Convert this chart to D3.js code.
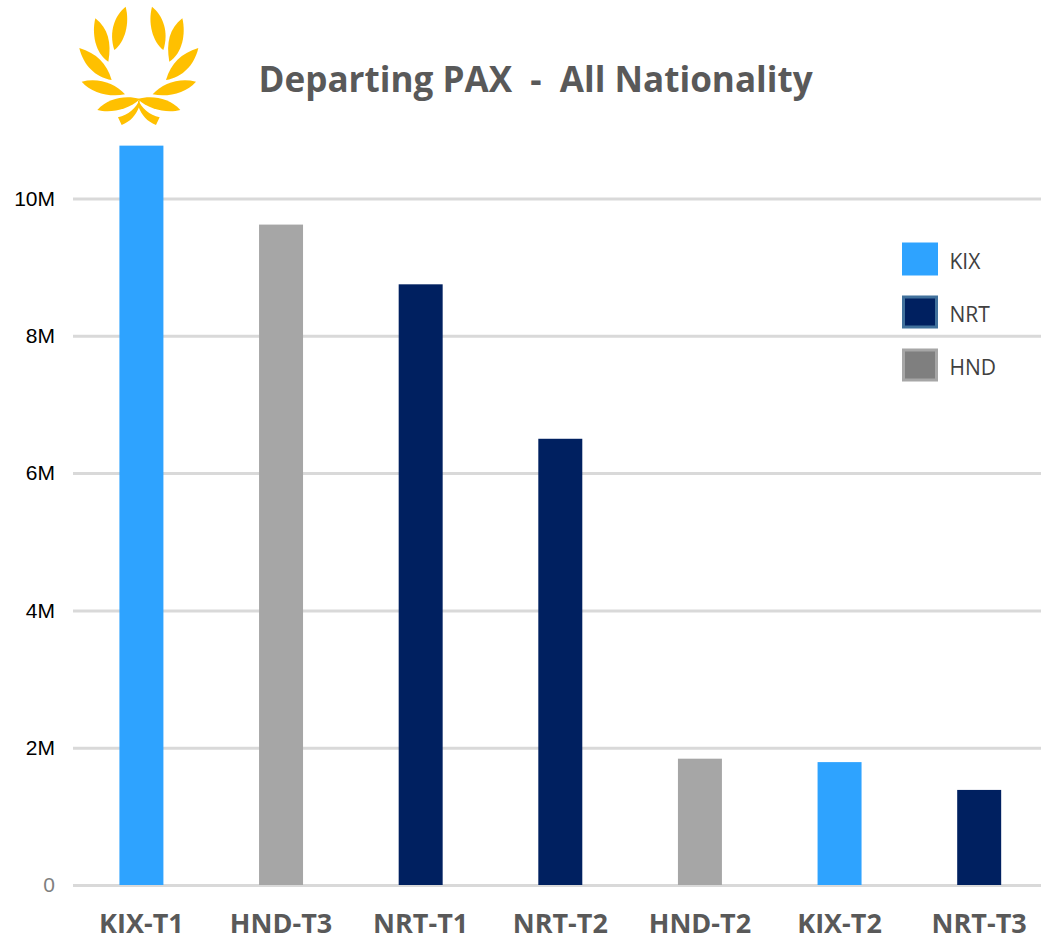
<!DOCTYPE html>
<html>
<head>
    <meta charset="UTF-8">
    <title>Departing PAX - All Nationality</title>
    <script src="https://d3js.org/d3.v7.min.js"></script>
    <style>
        body { margin: 0; background: #fff; }
        svg { display: block; }
        text { font-family: "Open Sans", sans-serif; }
        .chart-title { font-size: 35.1px; font-weight: bold; fill: #595959; }
        .grid line { stroke: #d9d9d9; stroke-width: 3px; }
        .grid path { display: none; }
        .axis path, .axis line { display: none; }
        .y-axis text { font-family: "Liberation Sans", sans-serif; font-size: 21px; fill: #000; }
        .x-axis text { font-size: 27px; font-weight: bold; fill: #595959; }
        .legend-label { font-size: 21px; fill: #404040; }
    </style>
</head>
<body>
    <div id="chart"></div>

    <script>
        // data
        const terminals = ["KIX-T1", "HND-T3", "NRT-T1", "NRT-T2", "HND-T2", "KIX-T2", "NRT-T3"];
        const departingPax = [10.77e6, 9.62e6, 8.75e6, 6.5e6, 1.84e6, 1.79e6, 1.385e6];
        const barAirports = ["KIX", "HND", "NRT", "NRT", "HND", "KIX", "NRT"];
        const airports = ["KIX", "NRT", "HND"];
        const airportColors = ["#2ea3ff", "#002060", "#a6a6a6"];
        const legendFills = ["#2ea3ff", "#002060", "#7f7f7f"];
        const legendStrokes = ["#2ea3ff", "#41719c", "#a6a6a6"];
        const yTicks = [0, 2e6, 4e6, 6e6, 8e6, 10e6];

        const width = 1041;
        const height = 942;

        const svg = d3.select("#chart")
            .append("svg")
            .attr("width", width)
            .attr("height", height);

        // scales
        const xScale = d3.scaleBand()
            .domain(terminals)
            .range([71.6, 1049])
            .paddingInner(0.685)
            .paddingOuter(0.3425);

        const yScale = d3.scaleLinear()
            .domain([0, 10e6])
            .range([885, 198.5]);

        const colorScale = d3.scaleOrdinal().domain(airports).range(airportColors);

        // gridlines
        svg.append("g")
            .attr("class", "grid")
            .attr("transform", "translate(73,0)")
            .call(d3.axisLeft(yScale).tickValues(yTicks).tickSize(-968).tickFormat(""));

        // bars
        svg.selectAll(".bar")
            .data(terminals)
            .enter()
            .append("rect")
            .attr("class", "bar")
            .attr("x", d => xScale(d))
            .attr("y", (d, i) => yScale(departingPax[i]))
            .attr("width", xScale.bandwidth())
            .attr("height", (d, i) => yScale(0) - yScale(departingPax[i]))
            .attr("fill", (d, i) => colorScale(barAirports[i]));

        // axes
        svg.append("g")
            .attr("class", "axis y-axis")
            .attr("transform", "translate(55,0)")
            .call(d3.axisLeft(yScale).tickValues(yTicks).tickSize(0).tickPadding(0)
                .tickFormat(d => d === 0 ? "0" : d / 1e6 + "M"))
            .selectAll("text")
            .attr("fill", null)
            .style("fill", d => d === 0 ? "#7f7f7f" : "#000");

        svg.append("g")
            .attr("class", "axis x-axis")
            .attr("transform", "translate(0,906)")
            .call(d3.axisBottom(xScale).tickSize(0).tickPadding(8));

        // title
        svg.append("text")
            .attr("class", "chart-title")
            .attr("x", 258.5)
            .attr("y", 92)
            .attr("xml:space", "preserve")
            .text("Departing PAX  -  All Nationality");

        // legend
        const legendY = d3.scalePoint().domain(airports).range([260, 366]);
        const legend = svg.selectAll(".legend")
            .data(airports)
            .enter()
            .append("g")
            .attr("class", "legend")
            .attr("transform", d => `translate(902,${legendY(d)})`);

        legend.append("rect")
            .attr("x", 1.5)
            .attr("y", -16)
            .attr("width", 33)
            .attr("height", 30)
            .attr("fill", (d, i) => legendFills[i])
            .attr("stroke", (d, i) => legendStrokes[i])
            .attr("stroke-width", 3);

        legend.append("text")
            .attr("class", "legend-label")
            .attr("x", 47.5)
            .attr("y", 9)
            .text(d => d);

        // laurel wreath, drawn at 3x and scaled down
        const leaves = [
            "M197 20C165 45 145 95 163 150C195 125 210 70 197 20Z",
            "M106 55C95 100 105 160 145 185C155 130 145 85 106 55Z",
            "M58 144C70 195 105 232 155 240C140 190 110 160 58 144Z",
            "M65 245C95 280 150 292 195 283C165 250 115 232 65 245Z",
            "M112 330C150 340 205 330 240 297C195 285 145 295 112 330Z",
            "M240 296C228 325 205 345 174 352L185 375C212 365 228 345 237 322Z"
        ];
        const laurel = svg.append("g")
            .attr("transform", "translate(60,0) scale(0.3333)")
            .attr("fill", "#ffc000");
        laurel.selectAll(".leaf-left")
            .data(leaves)
            .enter()
            .append("path")
            .attr("d", d => d);
        laurel.selectAll(".leaf-right")
            .data(leaves)
            .enter()
            .append("path")
            .attr("transform", "translate(473,0) scale(-1,1)")
            .attr("d", d => d);
    </script>
</body>
</html>
